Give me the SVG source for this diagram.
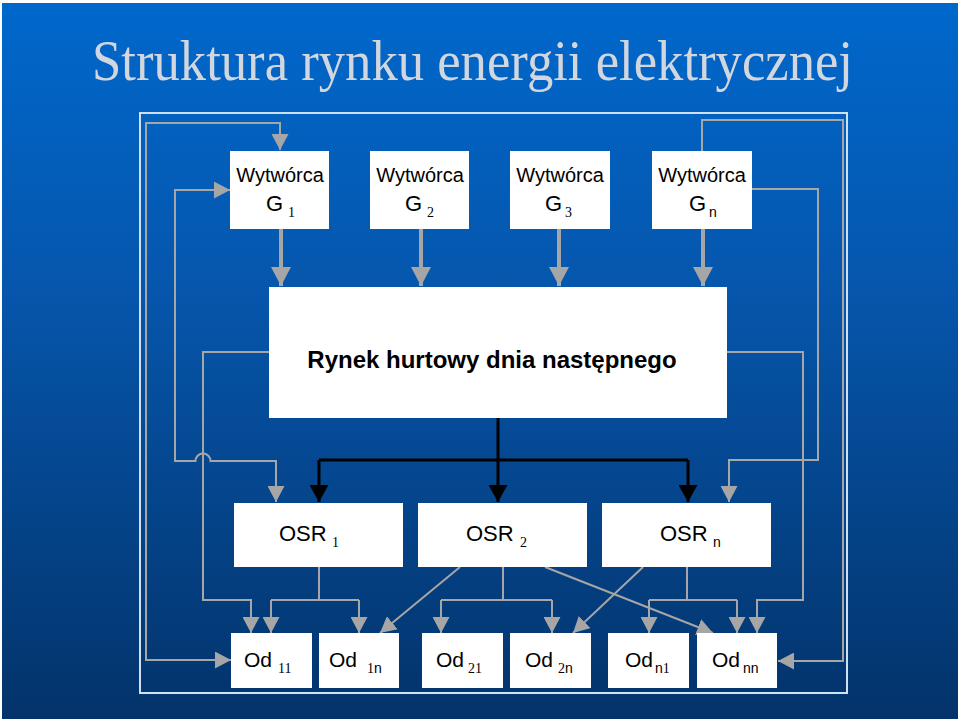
<svg xmlns="http://www.w3.org/2000/svg" width="960" height="723" viewBox="0 0 960 723">
<defs>
<linearGradient id="bg" x1="0" y1="0" x2="0" y2="1">
<stop offset="0" stop-color="#0068cc"/>
<stop offset="0.4" stop-color="#0656ac"/>
<stop offset="1" stop-color="#03336a"/>
</linearGradient>
<marker id="ag" markerUnits="userSpaceOnUse" markerWidth="17" markerHeight="17" refX="16" refY="8.5" orient="auto-start-reverse" viewBox="0 0 17 17">
<path d="M0,0 L16,8.5 L0,17 z" fill="#a6a6a6"/>
</marker>
<marker id="agb" markerUnits="userSpaceOnUse" markerWidth="20" markerHeight="20" refX="19" refY="10" orient="auto" viewBox="0 0 20 20">
<path d="M0,0 L19,10 L0,20 z" fill="#a6a6a6"/>
</marker>
<marker id="ak" markerUnits="userSpaceOnUse" markerWidth="19" markerHeight="19" refX="17" refY="9.5" orient="auto" viewBox="0 0 19 19">
<path d="M0,0 L17,9.5 L0,19 z" fill="#000"/>
</marker>
</defs>
<style>
.box{fill:#fff}
.t{font-family:"Liberation Sans",Arial,sans-serif;fill:#000}
.s{font-family:"Liberation Serif","Times New Roman",serif;fill:#000}
.g{fill:none;stroke:#a6a6a6;stroke-width:2}
.gt{fill:none;stroke:#a6a6a6;stroke-width:4}
.k{fill:none;stroke:#000;stroke-width:3}
</style>
<rect x="0" y="0" width="960" height="723" fill="#ffffff"/>
<rect x="2" y="3" width="956" height="716" fill="url(#bg)"/>
<text x="92" y="80" font-family="'Liberation Serif','Times New Roman',serif" font-size="56" fill="#d2d6de" textLength="761" lengthAdjust="spacingAndGlyphs">Struktura rynku energii elektrycznej</text>
<rect x="140" y="113" width="707" height="580" fill="none" stroke="#cfe0f2" stroke-width="2"/>

<g id="connectors">
<path class="g" d="M231,660 H146 V123 H280 V150" marker-start="url(#ag)" marker-end="url(#ag)"/>
<path class="g" d="M230,190 H175 V461 H195.5 A7.5,7.5 0 0 1 210.5,461 H276 V502" marker-start="url(#ag)" marker-end="url(#ag)"/>
<path class="g" d="M269,352 H203 V600 H251 V633" marker-end="url(#ag)"/>
<path class="g" d="M702,151 V120 H843 V661 H778" marker-end="url(#ag)"/>
<path class="g" d="M752,189 H818 V460 H729 V502" marker-end="url(#ag)"/>
<path class="g" d="M727,352 H803 V600 H757 V633" marker-end="url(#ag)"/>
<path class="gt" d="M281,229 V286" marker-end="url(#agb)"/>
<path class="gt" d="M421,229 V286" marker-end="url(#agb)"/>
<path class="gt" d="M559,229 V286" marker-end="url(#agb)"/>
<path class="gt" d="M703,229 V286" marker-end="url(#agb)"/>
<path class="k" d="M498,418 V460"/>
<path class="k" d="M319,460 H688"/>
<path class="k" d="M319,460 V502" marker-end="url(#ak)"/>
<path class="k" d="M498,460 V502" marker-end="url(#ak)"/>
<path class="k" d="M688,460 V502" marker-end="url(#ak)"/>
<path class="g" d="M319,567 V600"/>
<path class="g" d="M271,600 H359"/>
<path class="g" d="M271,600 V633" marker-end="url(#ag)"/>
<path class="g" d="M359,600 V633" marker-end="url(#ag)"/>
<path class="g" d="M503,567 V600"/>
<path class="g" d="M441,600 H552"/>
<path class="g" d="M441,600 V633" marker-end="url(#ag)"/>
<path class="g" d="M552,600 V633" marker-end="url(#ag)"/>
<path class="g" d="M687,567 V600"/>
<path class="g" d="M649,600 H737"/>
<path class="g" d="M649,600 V633" marker-end="url(#ag)"/>
<path class="g" d="M737,600 V633" marker-end="url(#ag)"/>
<path class="g" d="M460,567 L380,633" marker-end="url(#ag)"/>
<path class="g" d="M545,567 L713,633" marker-end="url(#ag)"/>
<path class="g" d="M643,567 L573,633" marker-end="url(#ag)"/>
</g>

<g id="G1"><rect class="box" x="230" y="151" width="99" height="78"/>
<text class="t" x="280" y="182" font-size="20" text-anchor="middle">Wytwórca</text>
<text class="t" x="266" y="211" font-size="22">G</text><text class="s" x="288" y="217" font-size="14">1</text></g>
<g id="G2"><rect class="box" x="370" y="151" width="99" height="78"/>
<text class="t" x="420" y="182" font-size="20" text-anchor="middle">Wytwórca</text>
<text class="t" x="405" y="211" font-size="22">G</text><text class="s" x="427" y="217" font-size="14">2</text></g>
<g id="G3"><rect class="box" x="510" y="151" width="100" height="78"/>
<text class="t" x="560" y="182" font-size="20" text-anchor="middle">Wytwórca</text>
<text class="t" x="545" y="211" font-size="22">G</text><text class="s" x="565" y="217" font-size="14">3</text></g>
<g id="Gn"><rect class="box" x="652" y="151" width="100" height="78"/>
<text class="t" x="702" y="182" font-size="20" text-anchor="middle">Wytwórca</text>
<text class="t" x="689" y="211" font-size="22">G</text><text class="t" x="709" y="217" font-size="14">n</text></g>

<g id="rynek"><rect class="box" x="269" y="287" width="458" height="131"/>
<text class="t" x="492" y="368" font-size="24" font-weight="bold" text-anchor="middle">Rynek hurtowy dnia następnego</text></g>

<g id="OSR1"><rect class="box" x="234" y="503" width="169" height="64"/>
<text class="t" x="279" y="541" font-size="22">OSR</text><text class="s" x="332" y="547" font-size="14">1</text></g>
<g id="OSR2"><rect class="box" x="418" y="503" width="169" height="64"/>
<text class="t" x="466" y="541" font-size="22">OSR</text><text class="s" x="520" y="547" font-size="14">2</text></g>
<g id="OSRn"><rect class="box" x="602" y="503" width="169" height="64"/>
<text class="t" x="660" y="541" font-size="22">OSR</text><text class="t" x="713" y="547" font-size="14">n</text></g>

<g id="Od11"><rect class="box" x="231" y="633" width="81" height="55"/>
<text class="t" x="244" y="667" font-size="21">Od</text><text class="s" x="278" y="673" font-size="14">11</text></g>
<g id="Od1n"><rect class="box" x="319" y="633" width="80" height="55"/>
<text class="t" x="329" y="667" font-size="21">Od</text><text x="367" y="673" font-size="14"><tspan class="s">1</tspan><tspan class="t">n</tspan></text></g>
<g id="Od21"><rect class="box" x="422" y="633" width="81" height="55"/>
<text class="t" x="436" y="667" font-size="21">Od</text><text class="s" x="468" y="673" font-size="14">21</text></g>
<g id="Od2n"><rect class="box" x="510" y="633" width="81" height="55"/>
<text class="t" x="525" y="667" font-size="21">Od</text><text x="558" y="673" font-size="14"><tspan class="s">2</tspan><tspan class="t">n</tspan></text></g>
<g id="Odn1"><rect class="box" x="608" y="633" width="81" height="55"/>
<text class="t" x="625" y="667" font-size="21">Od</text><text x="655" y="673" font-size="14"><tspan class="t">n</tspan><tspan class="s">1</tspan></text></g>
<g id="Odnn"><rect class="box" x="697" y="633" width="80" height="55"/>
<text class="t" x="712" y="667" font-size="21">Od</text><text class="t" x="743" y="673" font-size="14">nn</text></g>
</svg>
